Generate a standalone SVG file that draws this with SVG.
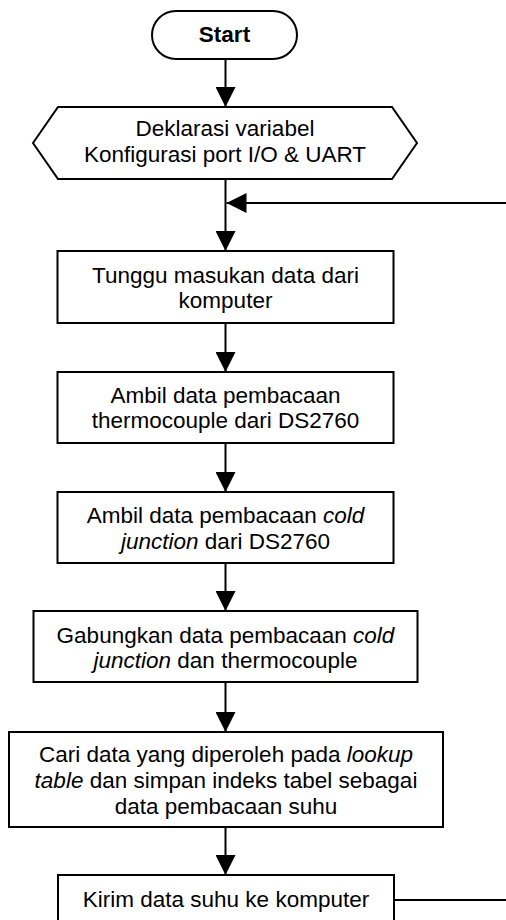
<svg xmlns="http://www.w3.org/2000/svg" width="506" height="920" viewBox="0 0 506 920">
  <style>
    .shape { fill: #ffffff; stroke: #000000; stroke-width: 2; }
    .line { fill: none; stroke: #000000; stroke-width: 2; }
    text { font-family: "Liberation Sans", Arial, sans-serif; font-size: 22.5px; fill: #000000; text-anchor: middle; }
    .bold { font-weight: bold; }
    .it { font-style: italic; }
  </style>
  <defs>
    <marker id="arrow" markerUnits="userSpaceOnUse" markerWidth="20" markerHeight="20" refX="20" refY="10" orient="auto">
      <path d="M0,0 L20,10 L0,20 Z" fill="#000000"/>
    </marker>
  </defs>
  <rect width="506" height="920" fill="#ffffff"/>

  <!-- connectors -->
  <g id="connectors">
    <line class="line" x1="225.5" y1="59" x2="225.5" y2="107" marker-end="url(#arrow)"/>
    <line class="line" x1="225.5" y1="179" x2="225.5" y2="251" marker-end="url(#arrow)"/>
    <line class="line" x1="225.5" y1="323" x2="225.5" y2="372" marker-end="url(#arrow)"/>
    <line class="line" x1="225.5" y1="443" x2="225.5" y2="492" marker-end="url(#arrow)"/>
    <line class="line" x1="225.5" y1="563" x2="225.5" y2="611" marker-end="url(#arrow)"/>
    <line class="line" x1="225.5" y1="682" x2="225.5" y2="732" marker-end="url(#arrow)"/>
    <line class="line" x1="225.5" y1="827" x2="225.5" y2="875" marker-end="url(#arrow)"/>
    <!-- loop back from the last step to the wait step -->
    <path class="line" d="M394,900 H520 V203 H226.5" marker-end="url(#arrow)"/>
  </g>

  <g id="start">
    <rect class="shape" x="152" y="11" width="145" height="48" rx="24" ry="24"/>
    <text class="bold" x="224.5" y="42">Start</text>
  </g>

  <g id="init">
    <polygon class="shape" points="33,143 58,107 392,107 417,143 392,179 58,179"/>
    <text x="225" y="136">Deklarasi variabel</text>
    <text x="225" y="162">Konfigurasi port I/O &amp; UART</text>
  </g>

  <g id="wait">
    <rect class="shape" x="57.5" y="251" width="336" height="72"/>
    <text x="225.5" y="283">Tunggu masukan data dari</text>
    <text x="225.5" y="308">komputer</text>
  </g>

  <g id="read-tc">
    <rect class="shape" x="57.5" y="372" width="336" height="71"/>
    <text x="225.5" y="403">Ambil data pembacaan</text>
    <text x="225.5" y="428">thermocouple dari DS2760</text>
  </g>

  <g id="read-cj">
    <rect class="shape" x="57.5" y="492" width="336" height="71"/>
    <text x="225.5" y="523">Ambil data pembacaan <tspan class="it">cold</tspan></text>
    <text x="225.5" y="549"><tspan class="it">junction</tspan> dari DS2760</text>
  </g>

  <g id="merge">
    <rect class="shape" x="33.5" y="611" width="384" height="71"/>
    <text x="225.5" y="643">Gabungkan data pembacaan <tspan class="it">cold</tspan></text>
    <text x="225.5" y="668"><tspan class="it">junction</tspan> dan thermocouple</text>
  </g>

  <g id="lookup">
    <rect class="shape" x="9" y="732" width="434" height="95"/>
    <text x="226" y="762">Cari data yang diperoleh pada <tspan class="it">lookup</tspan></text>
    <text x="226" y="788"><tspan class="it">table</tspan> dan simpan indeks tabel sebagai</text>
    <text x="226" y="814">data pembacaan suhu</text>
  </g>

  <g id="send">
    <rect class="shape" x="58" y="875" width="336" height="60"/>
    <text x="226" y="907">Kirim data suhu ke komputer</text>
  </g>
</svg>
